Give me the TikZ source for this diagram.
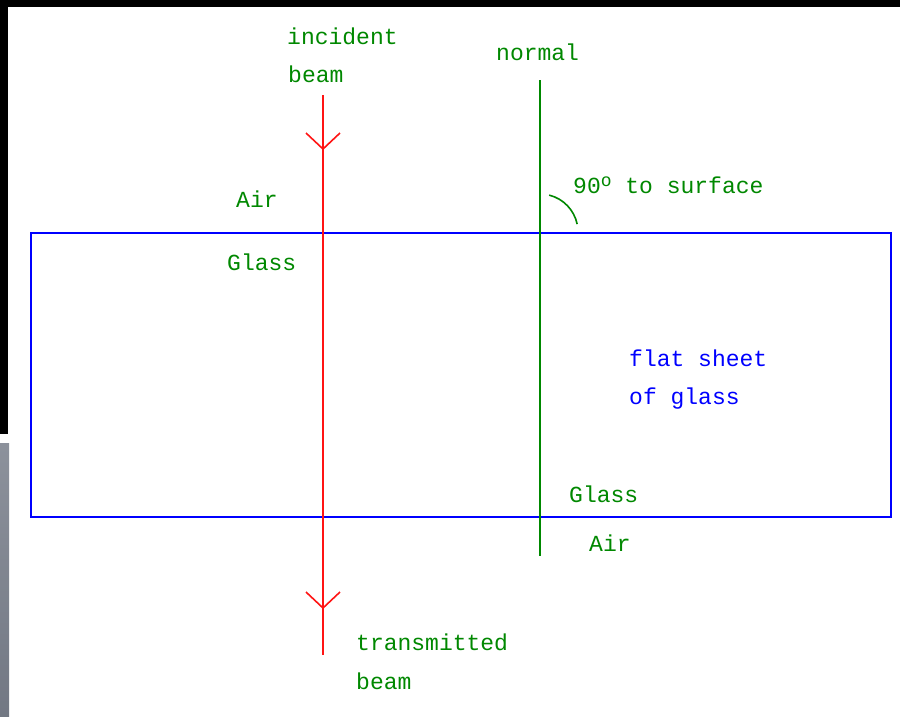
\documentclass[tikz,border=0pt]{standalone}
\usepackage{fontspec}
\setmainfont{Liberation Mono}
\definecolor{lblgreen}{RGB}{0,136,0}
\definecolor{beamred}{RGB}{255,20,20}
\definecolor{glassblue}{RGB}{0,0,255}
\definecolor{stripgray}{RGB}{120,126,138}
\begin{document}
\begin{tikzpicture}[x=1pt,y=1pt,
  lbl/.style={text=lblgreen,anchor=base west,inner sep=0pt,font=\fontsize{23}{23}\selectfont},
  bluelbl/.style={lbl,text=glassblue},
  beamline/.style={draw=beamred,line width=2pt},
  normline/.style={draw=lblgreen,line width=2pt},
  head/.style={draw=beamred,line width=1.6pt}]
\useasboundingbox (0,0) rectangle (900,-716);
\fill[white] (0,0) rectangle (900,-716);
% frame strips
\fill[black] (0,0) rectangle (900,-7);
\fill[black] (0,0) rectangle (8,-434);
\shade[top color=stripgray!85!white,bottom color=stripgray!95!black] (0,-443) rectangle (9,-716);
% glass sheet
\node[draw=glassblue,line width=2pt,minimum width=860pt,minimum height=284pt,inner sep=0pt,anchor=north west] (sheet) at (30,-232) {};
% normal
\coordinate (ntop) at (540,-80);
\coordinate (nbot) at (540,-556);
\draw[normline] (ntop) -- (nbot);
% beam
\coordinate (btop) at (323,-95);
\coordinate (bbot) at (323,-655);
\coordinate (tip1) at (323,-149);
\coordinate (tip2) at (323,-608);
\draw[beamline] (btop) -- (bbot);
\draw[head] (tip1) ++(-17,16) -- (tip1) -- ++(17,16);
\draw[head] (tip2) ++(-17,16) -- (tip2) -- ++(17,16);
% angle arc
\coordinate (hit) at (540,-232);
\draw[lblgreen,line width=1.6pt] (hit) ++(76:38) arc[start angle=76,end angle=12,radius=38];
% labels
\node[lbl] (inc1) at (287,-44) {incident};
\node[lbl] (inc2) at (288,-82) {beam};
\node[lbl] (norm) at (496,-60) {normal};
\node[lbl] (air1) at (236,-207) {Air};
\node[lbl] (gl1) at (227,-270) {Glass};
\node[lbl] (ang) at (573,-193) {90\raisebox{7pt}{\fontsize{18}{18}\selectfont o} to surface};
\node[bluelbl] (flat1) at (629,-366) {flat sheet};
\node[bluelbl] (flat2) at (629,-404) {of glass};
\node[lbl] (gl2) at (569,-502) {Glass};
\node[lbl] (air2) at (589,-551) {Air};
\node[lbl] (tr1) at (356,-650) {transmitted};
\node[lbl] (tr2) at (356,-689) {beam};
\end{tikzpicture}
\end{document}
